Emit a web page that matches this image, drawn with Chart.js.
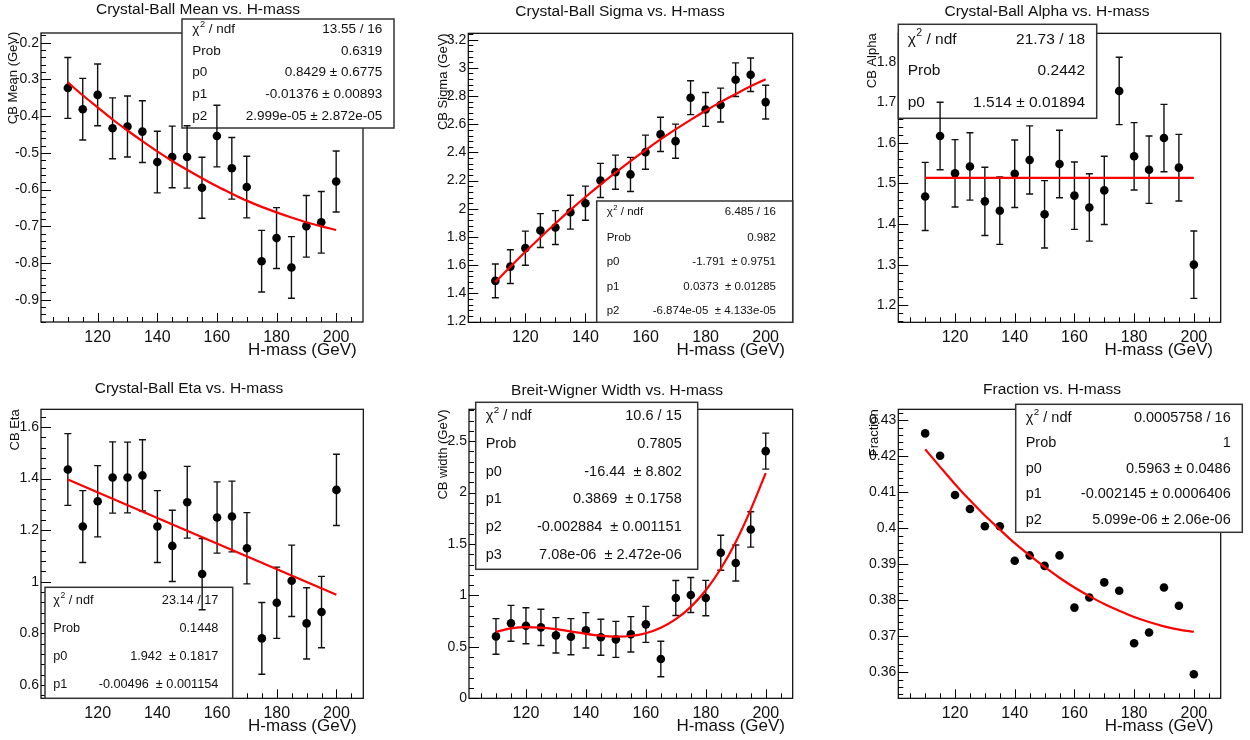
<!DOCTYPE html>
<html>
<head>
<meta charset="utf-8">
<script src="https://cdn.jsdelivr.net/npm/chart.js@4.4.0/dist/chart.umd.min.js"></script>
<style>
html, body { margin: 0; padding: 0; background: #fff; }
#wrap { position: relative; width: 1250px; height: 740px; overflow: hidden; }
canvas { position: absolute; }
</style>
</head>
<body>
<div id="wrap"></div>
<script>
// ---- data ----
const mass = [110, 115, 120, 125, 130, 135, 140, 145, 150, 155, 160, 165, 170, 175, 180, 185, 190, 195, 200];
const fitEnds = [110, 200];
const xTicks = [120, 140, 160, 180, 200];

const meanY   = [-0.323, -0.381, -0.342, -0.433, -0.428, -0.442, -0.525, -0.511, -0.511, -0.595, -0.454, -0.542, -0.593, -0.795, -0.732, -0.812, -0.700, -0.689, -0.578];
const meanErr = [0.083, 0.084, 0.084, 0.083, 0.083, 0.084, 0.084, 0.084, 0.085, 0.083, 0.084, 0.084, 0.084, 0.084, 0.083, 0.084, 0.084, 0.084, 0.083];
const meanFit = [-0.308, -0.343, -0.376, -0.409, -0.439, -0.468, -0.496, -0.522, -0.546, -0.569, -0.591, -0.611, -0.630, -0.647, -0.662, -0.676, -0.689, -0.700, -0.710];
const meanTicks = [-0.9, -0.8, -0.7, -0.6, -0.5, -0.4, -0.3, -0.2];
const meanStats = ['13.55 / 16', '0.6319', '0.8429 \u00b1 0.6775', '-0.01376 \u00b1 0.00893', '2.999e-05 \u00b1 2.872e-05'];

const sigmaY   = [1.489, 1.590, 1.721, 1.846, 1.867, 1.976, 2.040, 2.201, 2.260, 2.244, 2.402, 2.528, 2.480, 2.788, 2.705, 2.736, 2.916, 2.951, 2.757];
const sigmaErr = [0.120, 0.120, 0.121, 0.120, 0.120, 0.120, 0.121, 0.121, 0.121, 0.121, 0.121, 0.121, 0.121, 0.120, 0.120, 0.120, 0.119, 0.119, 0.120];
const sigmaFit = [1.480, 1.589, 1.695, 1.797, 1.896, 1.992, 2.084, 2.172, 2.257, 2.339, 2.417, 2.492, 2.563, 2.631, 2.696, 2.757, 2.814, 2.869, 2.919];
const sigmaTicks = [1.2, 1.4, 1.6, 1.8, 2, 2.2, 2.4, 2.6, 2.8, 3, 3.2];
const sigmaStats = ['6.485 / 16', '0.982', '-1.791  \u00b1 0.9751', '0.0373  \u00b1 0.01285', '-6.874e-05  \u00b1 4.133e-05'];

const alphaY   = [1.468, 1.617, 1.525, 1.542, 1.456, 1.433, 1.524, 1.558, 1.424, 1.548, 1.470, 1.441, 1.483, 1.728, 1.567, 1.534, 1.612, 1.539, 1.300];
const alphaErr = [0.084, 0.083, 0.083, 0.083, 0.084, 0.083, 0.083, 0.084, 0.083, 0.083, 0.083, 0.083, 0.084, 0.083, 0.083, 0.083, 0.083, 0.082, 0.083];
const alphaFit = [1.514, 1.514];
const alphaTicks = [1.2, 1.3, 1.4, 1.5, 1.6, 1.7, 1.8];
const alphaStats = ['21.73 / 18', '0.2442', '1.514 \u00b1 0.01894'];

const etaY   = [1.435, 1.214, 1.312, 1.404, 1.404, 1.412, 1.214, 1.139, 1.308, 1.030, 1.249, 1.253, 1.130, 0.781, 0.919, 1.004, 0.839, 0.883, 1.356];
const etaErr = [0.139, 0.139, 0.138, 0.138, 0.137, 0.138, 0.139, 0.138, 0.139, 0.138, 0.138, 0.137, 0.138, 0.139, 0.138, 0.138, 0.138, 0.138, 0.138];
const etaFit = [1.396, 0.950];
const etaTicks = [0.6, 0.8, 1, 1.2, 1.4, 1.6];
const etaStats = ['23.14 / 17', '0.1448', '1.942  \u00b1 0.1817', '-0.00496  \u00b1 0.001154'];

const widthY   = [0.602, 0.729, 0.706, 0.690, 0.612, 0.599, 0.661, 0.593, 0.573, 0.622, 0.719, 0.382, 0.975, 1.004, 0.975, 1.415, 1.315, 1.642, 2.403];
const widthErr = [0.173, 0.175, 0.175, 0.176, 0.172, 0.176, 0.172, 0.175, 0.175, 0.172, 0.175, 0.172, 0.170, 0.170, 0.172, 0.170, 0.175, 0.172, 0.175];
const widthFit = [0.646, 0.680, 0.693, 0.688, 0.672, 0.650, 0.627, 0.609, 0.600, 0.606, 0.633, 0.686, 0.769, 0.889, 1.051, 1.260, 1.520, 1.835, 2.190];
const widthTicks = [0, 0.5, 1, 1.5, 2, 2.5];
const widthStats = ['10.6 / 15', '0.7805', '-16.44  \u00b1 8.802', '0.3869  \u00b1 0.1758', '-0.002884  \u00b1 0.001151', '7.08e-06  \u00b1 2.472e-06'];

const fracY   = [0.4264, 0.4202, 0.4093, 0.4054, 0.4006, 0.4006, 0.3910, 0.3925, 0.3896, 0.3925, 0.3780, 0.3808, 0.3850, 0.3827, 0.3681, 0.3711, 0.3836, 0.3785, 0.3595];
const fracFit = [0.4220, 0.4171, 0.4123, 0.4078, 0.4036, 0.3997, 0.3959, 0.3925, 0.3893, 0.3863, 0.3836, 0.3812, 0.3790, 0.3771, 0.3754, 0.3740, 0.3728, 0.3719, 0.3713];
const fracTicks = [0.36, 0.37, 0.38, 0.39, 0.4, 0.41, 0.42, 0.43];
const fracStats = ['0.0005758 / 16', '1', '0.5963 \u00b1 0.0486', '-0.002145 \u00b1 0.0006406', '5.099e-06 \u00b1 2.06e-06'];

// ---- layout (canvas-relative pixels) ----
const FONT = "'Liberation Sans', Arial, Helvetica, sans-serif";
Chart.defaults.font.family = FONT;

const panels = [
  { x: 0, y: 0, w: 415, h: 370, frame: { l: 41, r: 363, t: 33, b: 322 }, yRange: [-0.9606, -0.1734],
    title: 'Crystal-Ball Mean vs. H-mass', titlePos: [198, 9.5], ytitle: 'CB Mean (GeV)', ytPos: [13.3, 31.7], xtPos: [356.7, 350],
    ys: meanY, err: meanErr, fitX: mass, fit: meanFit, yTicks: meanTicks, stats: meanStats,
    box: { x1: 182, y1: 19, x2: 394, y2: 128, rows: [29.3, 51.7, 72.7, 94.3, 116.7], lx: 192.3, rx: 382.3, size: 13.5 } },
  { x: 415, y: 0, w: 418, h: 370, frame: { l: 53.3, r: 377.7, t: 33.3, b: 322.3 }, yRange: [1.195, 3.245],
    title: 'Crystal-Ball Sigma vs. H-mass', titlePos: [205, 11.7], ytitle: 'CB Sigma (GeV)', ytPos: [28.3, 33.3], xtPos: [370, 350],
    ys: sigmaY, err: sigmaErr, fitX: mass, fit: sigmaFit, yTicks: sigmaTicks, stats: sigmaStats,
    box: { x1: 181.7, y1: 201, x2: 377.7, y2: 322.3, rows: [212.3, 237.7, 262.3, 286.7, 311], lx: 191.7, rx: 361, size: 11.5 } },
  { x: 833, y: 0, w: 417, h: 370, frame: { l: 65.3, r: 387.7, t: 33.3, b: 322.3 }, yRange: [1.158, 1.870],
    title: 'Crystal-Ball Alpha vs. H-mass', titlePos: [214, 11.7], ytitle: 'CB Alpha', ytPos: [39.3, 33.3], xtPos: [380, 350],
    ys: alphaY, err: alphaErr, fitX: fitEnds, fit: alphaFit, yTicks: alphaTicks, stats: alphaStats,
    box: { x1: 65.3, y1: 24.3, x2: 263.7, y2: 118.3, rows: [39.3, 71, 102.7], lx: 74.7, rx: 252, size: 15.5 } },
  { x: 0, y: 370, w: 415, h: 370, frame: { l: 41, r: 363.3, t: 39.3, b: 328.3 }, yRange: [0.549, 1.668],
    title: 'Crystal-Ball Eta vs. H-mass', titlePos: [189, 18.3], ytitle: 'CB Eta', ytPos: [15, 39.3], xtPos: [356.7, 356.7],
    ys: etaY, err: etaErr, fitX: fitEnds, fit: etaFit, yTicks: etaTicks, stats: etaStats,
    box: { x1: 45, y1: 217.3, x2: 232.7, y2: 328.3, rows: [230.7, 258.7, 286.7, 314.3], lx: 53.3, rx: 218.3, size: 12.7 } },
  { x: 415, y: 370, w: 418, h: 370, frame: { l: 54, r: 377.7, t: 39.3, b: 328.3 }, yRange: [0, 2.81],
    title: 'Breit-Wigner Width vs. H-mass', titlePos: [202, 21], ytitle: 'CB width (GeV)', ytPos: [28.3, 39.3], xtPos: [370, 356.7],
    ys: widthY, err: widthErr, fitX: mass, fit: widthFit, yTicks: widthTicks, stats: widthStats,
    box: { x1: 60.7, y1: 32.3, x2: 282.7, y2: 199.3, rows: [45.7, 74, 101.7, 129.3, 157.3, 185], lx: 70.7, rx: 266.7, size: 14.5 } },
  { x: 833, y: 370, w: 417, h: 370, frame: { l: 65.3, r: 387.7, t: 39.3, b: 328.3 }, yRange: [0.3528, 0.4331],
    title: 'Fraction vs. H-mass', titlePos: [219, 20], ytitle: 'Fraction', ytPos: [41.3, 39.3], xtPos: [380.3, 356.7],
    ys: fracY, err: null, fitX: mass, fit: fracFit, yTicks: fracTicks, stats: fracStats,
    box: { x1: 182.7, y1: 34.3, x2: 409.3, y2: 162.3, rows: [47.7, 73.3, 99, 124, 149.7], lx: 192.7, rx: 397.7, size: 14.5 } }
];

// ROOT-like frame, inward ticks, stat box, error bars, titles
const rootStyle = {
  id: 'rootStyle',
  beforeDatasetsDraw(chart, args, o) {
    const ctx = chart.ctx, a = chart.chartArea, xs = chart.scales.x, ys = chart.scales.y;
    ctx.save();
    ctx.strokeStyle = '#000';
    ctx.lineWidth = 1.2;
    ctx.strokeRect(a.left, a.top, a.right - a.left, a.bottom - a.top);

    // y ticks: 5 subdivisions per labelled step
    ctx.beginPath();
    ctx.lineWidth = 1;
    const yMajor = o.yTicks[1] - o.yTicks[0], yMinor = yMajor / 5;
    for (let i = Math.ceil(ys.min / yMinor - 1e-6); i * yMinor <= ys.max + 1e-9; i++) {
      const p = Math.round(ys.getPixelForValue(i * yMinor)) + 0.5;
      ctx.moveTo(a.left, p);
      ctx.lineTo(a.left + (i % 5 === 0 ? 10 : 5), p);
    }
    // x ticks: every 5 GeV, long every 20
    for (let i = Math.ceil(xs.min / 5); i * 5 <= xs.max; i++) {
      const p = Math.round(xs.getPixelForValue(i * 5)) + 0.5;
      ctx.moveTo(p, a.bottom);
      ctx.lineTo(p, a.bottom - (i % 4 === 0 ? 9 : 5));
    }
    ctx.stroke();

    // stat box
    const b = o.box;
    ctx.fillStyle = '#fff';
    ctx.fillRect(b.x1, b.y1, b.x2 - b.x1, b.y2 - b.y1);
    ctx.strokeStyle = '#333';
    ctx.lineWidth = 1.5;
    ctx.strokeRect(b.x1, b.y1, b.x2 - b.x1, b.y2 - b.y1);
    ctx.fillStyle = '#111';
    ctx.textBaseline = 'middle';
    const f = b.size + 'px ' + FONT;
    o.stats.forEach((val, i) => {
      const y = b.rows[i];
      ctx.font = f;
      ctx.textAlign = 'left';
      if (i === 0) {
        ctx.fillText('\u03c7', b.lx, y);
        let x = b.lx + ctx.measureText('\u03c7').width;
        ctx.font = (b.size * 0.68) + 'px ' + FONT;
        ctx.fillText('2', x + 0.5, y - b.size * 0.38);
        x += ctx.measureText('2').width + 0.5;
        ctx.font = f;
        ctx.fillText(' / ndf', x, y);
      } else {
        ctx.fillText(i === 1 ? 'Prob' : 'p' + (i - 2), b.lx, y);
      }
      ctx.textAlign = 'right';
      ctx.fillText(val, b.rx, y);
    });

    // error bars
    if (o.err) {
      ctx.strokeStyle = '#111';
      ctx.lineWidth = 1.4;
      ctx.beginPath();
      mass.forEach((m, i) => {
        const x = xs.getPixelForValue(m);
        const y1 = ys.getPixelForValue(o.ys[i] + o.err[i]);
        const y2 = ys.getPixelForValue(o.ys[i] - o.err[i]);
        ctx.moveTo(x, y1); ctx.lineTo(x, y2);
        ctx.moveTo(x - 3.5, y1); ctx.lineTo(x + 3.5, y1);
        ctx.moveTo(x - 3.5, y2); ctx.lineTo(x + 3.5, y2);
      });
      ctx.stroke();
    }
    ctx.restore();
  },
  afterDraw(chart, args, o) {
    const ctx = chart.ctx;
    ctx.save();
    ctx.fillStyle = '#111';
    ctx.textBaseline = 'middle';
    ctx.textAlign = 'center';
    ctx.font = '15.5px ' + FONT;
    ctx.fillText(o.title, o.titlePos[0], o.titlePos[1]);
    ctx.textAlign = 'right';
    ctx.font = '17px ' + FONT;
    ctx.fillText('H-mass (GeV)', o.xtPos[0], o.xtPos[1]);
    ctx.translate(o.ytPos[0], o.ytPos[1]);
    ctx.rotate(-Math.PI / 2);
    ctx.font = '13px ' + FONT;
    ctx.fillText(o.ytitle, 0, 0);
    ctx.restore();
  }
};

const wrap = document.getElementById('wrap');
panels.forEach(p => {
  const c = document.createElement('canvas');
  c.width = p.w; c.height = p.h;
  c.style.left = p.x + 'px'; c.style.top = p.y + 'px';
  wrap.appendChild(c);
  const f = p.frame;
  new Chart(c, {
    type: 'scatter',
    data: {
      datasets: [
        { data: p.fitX.map((x, i) => ({ x, y: p.fit[i] })), showLine: true, borderColor: '#f00', borderWidth: 2.2,
          pointRadius: 0, cubicInterpolationMode: 'monotone', order: 0 },
        { data: mass.map((x, i) => ({ x, y: p.ys[i] })), showLine: false, pointRadius: 4.3,
          pointBackgroundColor: '#000', pointBorderColor: '#000', pointBorderWidth: 0, order: 1 }
      ]
    },
    options: {
      responsive: false,
      animation: false,
      events: [],
      layout: { padding: { left: 0, top: f.t, right: p.w - f.r, bottom: p.h - f.b - 30 } },
      plugins: { legend: { display: false }, tooltip: { enabled: false }, rootStyle: p },
      scales: {
        x: {
          type: 'linear', min: 101, max: 209,
          afterFit: s => { s.height = 30; },
          afterBuildTicks: s => { s.ticks = xTicks.map(v => ({ value: v })); },
          grid: { display: false, drawTicks: false, tickLength: 0 }, border: { display: false },
          ticks: { color: '#111', font: { size: 16 }, padding: 6, maxRotation: 0, autoSkip: false }
        },
        y: {
          type: 'linear', min: p.yRange[0], max: p.yRange[1],
          afterFit: s => { s.width = f.l; },
          afterBuildTicks: s => { s.ticks = p.yTicks.map(v => ({ value: v })); },
          grid: { display: false, drawTicks: false, tickLength: 0 }, border: { display: false },
          ticks: { color: '#111', font: { size: 14 }, padding: 2, autoSkip: false,
                   callback: v => String(Math.round(v * 1000) / 1000) }
        }
      }
    },
    plugins: [rootStyle]
  });
});
</script>
</body>
</html>
